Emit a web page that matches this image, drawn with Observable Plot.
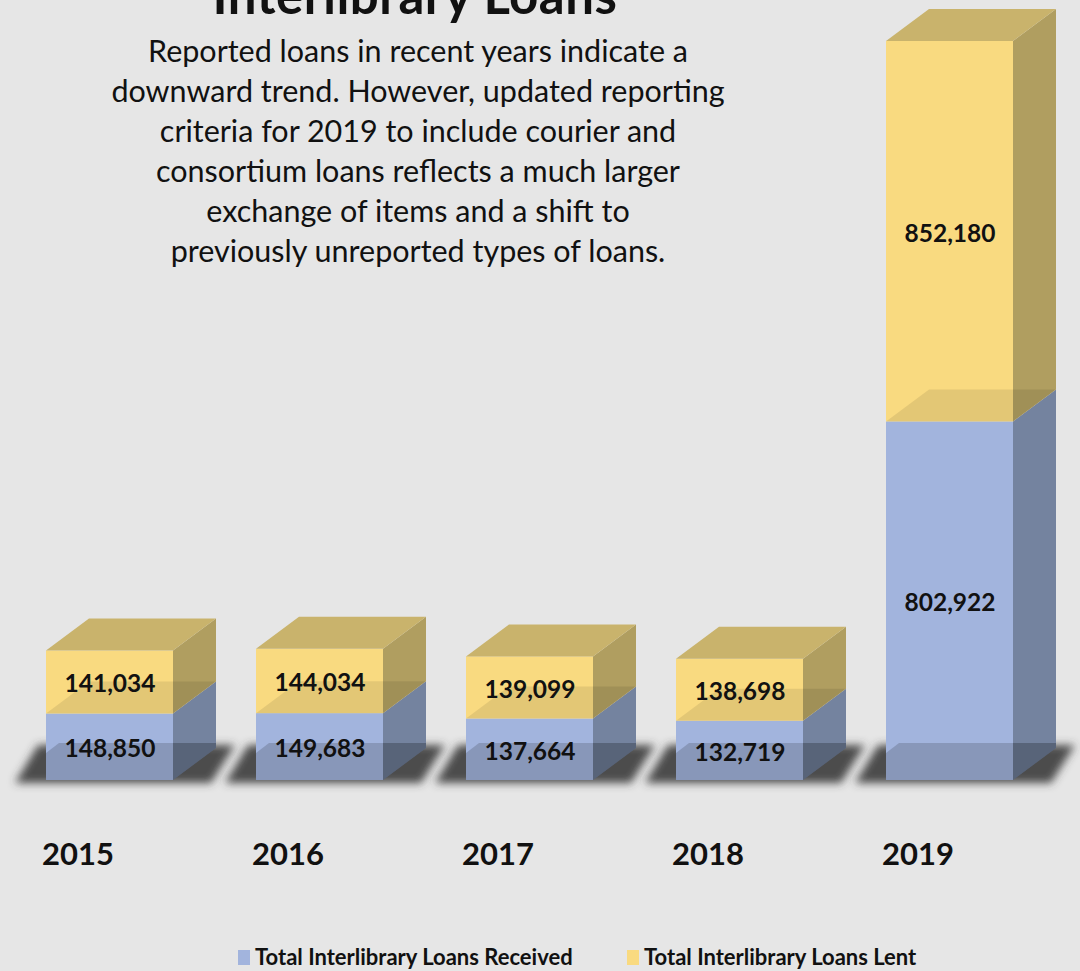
<!DOCTYPE html>
<html>
<head>
<meta charset="utf-8">
<script src="https://cdn.jsdelivr.net/npm/d3@7"></script>
<script src="https://cdn.jsdelivr.net/npm/@observablehq/plot@0.6"></script>
<style>
  html, body { margin: 0; padding: 0; background: #e6e6e6; overflow: hidden; }
  #wrap { position: relative; width: 1080px; height: 971px; font-family: Lato, "Open Sans", sans-serif; color: #111; }
  #chart { position: absolute; left: 0; top: 0; }
  #title { position: absolute; left: 0; width: 830px; top: -31px; text-align: center; font-weight: bold; font-size: 51px; line-height: 51px; letter-spacing: 0.5px; white-space: nowrap; }
  #subtitle { position: absolute; left: 0; width: 836px; top: 30px; text-align: center; font-size: 30.5px; line-height: 40px; white-space: nowrap; }
  #legend { position: absolute; top: 944px; left: 238px; font-weight: bold; font-size: 22px; line-height: 26px; white-space: nowrap; }
  .item { position: absolute; top: 0; display: flex; align-items: center; }
  .sw { width: 12px; height: 15px; margin-right: 5px; }
  #chart svg g[aria-label="x-axis tick label"] { font-weight: bold; }
</style>
</head>
<body>
<div id="wrap">
  <div id="chart"></div>
  <div id="title">Interlibrary Loans</div>
  <div id="subtitle">Reported loans in recent years indicate a<br>downward trend. However, updated reporting<br>criteria for 2019 to include courier and<br>consortium loans reflects a much larger<br>exchange of items and a shift to<br>previously unreported types of loans.</div>
  <div id="legend"></div>
</div>
<script>
// ---- data ----
const years = ["2015", "2016", "2017", "2018", "2019"];
const received = [148850, 149683, 137664, 132719, 802922];
const lent = [141034, 144034, 139099, 138698, 852180];
const seriesNames = ["Total Interlibrary Loans Received", "Total Interlibrary Loans Lent"];

// ---- styling ----
const C = {
  recFront: "#a2b4dd", recSide: "#74839f", recTop: "#b9c6e4",
  lentFront: "#f9da80", lentSide: "#b09e60", lentTop: "#c9b36c"
};
const DX = 43, DY = -32;

// segments built from arrays
const segs = [];
years.forEach((yr, i) => {
  segs.push({year: yr, series: seriesNames[0], y1: 0, y2: received[i], value: received[i], front: C.recFront, side: C.recSide, top: C.recTop});
  segs.push({year: yr, series: seriesNames[1], y1: received[i], y2: received[i] + lent[i], value: lent[i], front: C.lentFront, side: C.lentSide, top: C.lentTop});
});
const bars = years.map((yr, i) => ({year: yr, rec: received[i], total: received[i] + lent[i]}));

const poly = pts => pts.map(p => p.join(",")).join(" ");

// floor shadows
function shadowMark(index, scales) {
  const {x, y} = scales;
  const g = d3.create("svg:g");
  const f = g.append("defs").append("filter").attr("id", "blurShadow").attr("x", "-20%").attr("y", "-50%").attr("width", "140%").attr("height", "200%");
  f.append("feGaussianBlur").attr("stdDeviation", 4.5);
  for (const b of bars) {
    const x1 = x(b.year), x2 = x1 + x.bandwidth(), yb = y(0);
    g.append("polygon")
      .attr("points", poly([[x1 - 8, yb - 35], [x2 + 62, yb - 35], [x2 + 38, yb + 3], [x1 - 31, yb + 3]]))
      .attr("fill", "#3c3c3c").attr("fill-opacity", 0.9)
      .attr("filter", "url(#blurShadow)");
  }
  return g.node();
}

// side and top faces
function facesMark(index, scales) {
  const {x, y} = scales;
  const g = d3.create("svg:g");
  for (const s of segs) {
    const x1 = x(s.year), x2 = x1 + x.bandwidth();
    const ya = y(s.y1), yt = y(s.y2);
    g.append("polygon")
      .attr("points", poly([[x2, yt], [x2 + DX, yt + DY], [x2 + DX, ya + DY], [x2, ya]]))
      .attr("fill", s.side);
  }
  for (const s of segs.filter(d => d.series === seriesNames[1])) {
    const x1 = x(s.year), x2 = x1 + x.bandwidth();
    const yt = y(s.y2);
    g.append("polygon")
      .attr("points", poly([[x1, yt], [x1 + DX, yt + DY], [x2 + DX, yt + DY], [x2, yt]]))
      .attr("fill", s.top);
  }
  return g.node();
}

// overlays: received top seen through lent, and bottom darkening
function overlayMark(index, scales) {
  const {x, y} = scales;
  const g = d3.create("svg:g");
  for (const b of bars) {
    const x1 = x(b.year), x2 = x1 + x.bandwidth(), yj = y(b.rec), yb = y(0);
    g.append("polygon")
      .attr("points", poly([[x1, yj], [x1 + DX, yj + DY], [x2 + DX, yj + DY], [x2, yj]]))
      .attr("fill", "#000").attr("fill-opacity", 0.085);
    g.append("polygon")
      .attr("points", poly([[x1, yb - 27], [x1 + 13, yb - 37], [x2 + DX, yb - 37], [x2 + DX, yb + DY], [x2, yb], [x1, yb]]))
      .attr("fill", "#000").attr("fill-opacity", 0.16);
    g.append("polygon")
      .attr("points", poly([[x2, yb - 37], [x2 + DX, yb - 37], [x2 + DX, yb + DY], [x2, yb]]))
      .attr("fill", "#000").attr("fill-opacity", 0.09);
  }
  return g.node();
}

const fmt = d3.format(",");

const chart = Plot.plot({
  width: 1080,
  height: 971,
  marginTop: 3,
  marginBottom: 191,
  marginLeft: 46,
  marginRight: 62,
  style: {background: "transparent", fontFamily: "Lato, 'Open Sans', sans-serif", color: "#111"},
  x: {type: "band", domain: years, paddingInner: 0.393, paddingOuter: 0, align: 0, label: null},
  y: {domain: [0, 1740000], axis: null},
  marks: [
    shadowMark,
    Plot.rect(segs, {x: "year", y1: "y1", y2: "y2", fill: d => d.front}),
    facesMark,
    overlayMark,
    Plot.text(segs, {x: "year", y: d => (d.y1 + d.y2) / 2, text: d => fmt(d.value), fontSize: 24.5, fontWeight: "bold", fill: "#111", dy: 2}),
    Plot.axisX({tickSize: 0, tickPadding: 62, fontSize: 31, fontWeight: "bold", fill: "#111", dx: -32, label: null})
  ]
});
document.getElementById("chart").appendChild(chart);

// legend
const legend = document.getElementById("legend");
const legendColors = [C.recFront, C.lentFront];
const legendLeft = [0, 389];
seriesNames.forEach((name, i) => {
  const it = document.createElement("div");
  it.className = "item";
  it.style.left = legendLeft[i] + "px";
  it.innerHTML = `<span class="sw" style="background:${legendColors[i]}"></span><span>${name}</span>`;
  legend.appendChild(it);
});
</script>
</body>
</html>
